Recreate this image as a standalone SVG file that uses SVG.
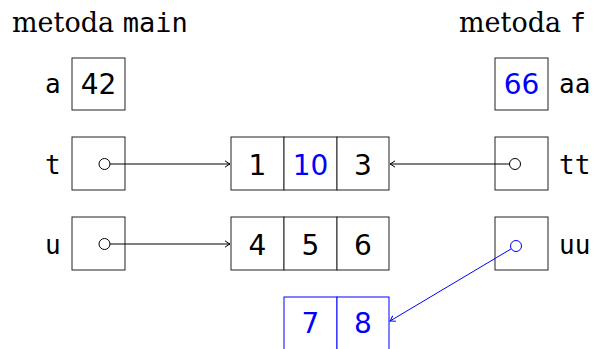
<svg xmlns="http://www.w3.org/2000/svg" width="593" height="349" viewBox="0 0 593 349">
<style>
.box{fill:#fff;stroke:#222;stroke-width:1}
.bbox{fill:#fff;stroke:#0000ff;stroke-width:1}
.num{font-family:"DejaVu Sans",sans-serif;font-size:28px;text-anchor:middle;fill:#000}
.blue{fill:#0000ff}
.mono{font-family:"DejaVu Sans Mono",monospace;font-size:26px;fill:#000}
.ser{font-family:"DejaVu Serif",serif;font-size:27px;fill:#000}
.ptr{fill:#fff;stroke:#000;stroke-width:1}
.line{stroke:#000;stroke-width:1;fill:none}
</style>
<defs>
<marker id="ah" viewBox="-6 -4 8 8" markerWidth="8" markerHeight="8" refX="0" refY="0" orient="auto" markerUnits="userSpaceOnUse">
<path d="M-5,-3.2 Q-1.5,-0.6 0,0 Q-1.5,0.6 -5,3.2" fill="none" stroke="#000" stroke-width="1"/>
</marker>
<marker id="ahb" viewBox="-6 -4 8 8" markerWidth="8" markerHeight="8" refX="0" refY="0" orient="auto" markerUnits="userSpaceOnUse">
<path d="M-5,-3.2 Q-1.5,-0.6 0,0 Q-1.5,0.6 -5,3.2" fill="none" stroke="#0000ff" stroke-width="1"/>
</marker>
</defs>
<g id="titles">
<text x="12" y="32" class="ser">metoda <tspan class="mono" style="font-size:27px">main</tspan></text>
<text x="459" y="32" class="ser">metoda <tspan class="mono" style="font-size:27px">f</tspan></text>
</g>
<g id="var-a">
<text x="45" y="93" class="mono">a</text>
<rect x="72" y="58" width="53" height="52" class="box"/>
<text x="98.5" y="94" class="num">42</text>
</g>
<g id="var-t">
<text x="45" y="174" class="mono">t</text>
<rect x="72" y="137" width="53" height="53" class="box"/>
</g>
<g id="var-u">
<text x="45" y="254" class="mono">u</text>
<rect x="72" y="217" width="53" height="53" class="box"/>
</g>
<g id="var-aa">
<rect x="495" y="58" width="53" height="52" class="box"/>
<text x="521.5" y="94" class="num blue">66</text>
<text x="559" y="93" class="mono">aa</text>
</g>
<g id="var-tt">
<rect x="495" y="137" width="53" height="53" class="box"/>
<text x="559" y="174" class="mono">tt</text>
</g>
<g id="var-uu">
<rect x="495" y="217" width="53" height="53" class="box"/>
<text x="559" y="254" class="mono">uu</text>
</g>
<g id="arr1">
<rect x="231" y="137" width="53" height="53" class="box"/>
<rect x="284" y="137" width="53" height="53" class="box"/>
<rect x="337" y="137" width="52" height="53" class="box"/>
<text x="257.5" y="175" class="num">1</text>
<text x="310.5" y="175" class="num blue">10</text>
<text x="363" y="175" class="num">3</text>
</g>
<g id="arr2">
<rect x="231" y="217" width="53" height="53" class="box"/>
<rect x="284" y="217" width="53" height="53" class="box"/>
<rect x="337" y="217" width="52" height="53" class="box"/>
<text x="257.5" y="255" class="num">4</text>
<text x="310.5" y="255" class="num">5</text>
<text x="363" y="255" class="num">6</text>
</g>
<g id="arr3">
<rect x="284" y="297" width="53" height="53" class="bbox"/>
<rect x="337" y="297" width="52" height="53" class="bbox"/>
<text x="310.5" y="333" class="num blue">7</text>
<text x="363" y="333" class="num blue">8</text>
</g>
<g id="connectors">
<line x1="110" y1="164" x2="230" y2="164" class="line" marker-end="url(#ah)"/>
<line x1="110" y1="244" x2="230" y2="244" class="line" marker-end="url(#ah)"/>
<line x1="509.5" y1="164" x2="390" y2="164" class="line" marker-end="url(#ah)"/>
<line x1="511.3" y1="248.8" x2="390" y2="321" stroke="#0000ff" stroke-width="1" fill="none" marker-end="url(#ahb)"/>
<circle cx="104.5" cy="164" r="5.5" class="ptr"/>
<circle cx="104.5" cy="244" r="5.5" class="ptr"/>
<circle cx="515" cy="164" r="5.5" class="ptr"/>
<circle cx="516" cy="246" r="5.5" fill="#fff" stroke="#0000ff" stroke-width="1"/>
</g>
</svg>
